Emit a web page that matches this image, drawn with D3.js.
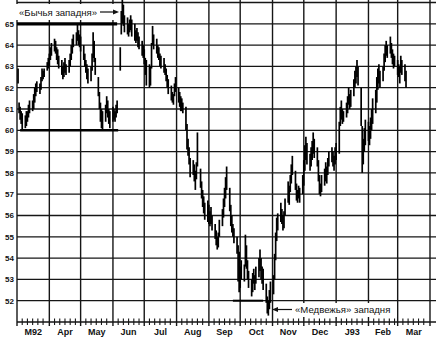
<!DOCTYPE html>
<meta charset="utf-8">
<script src="https://d3js.org/d3.v7.min.js"></script>
<style>
body { margin: 0; padding: 0; background: #fff; }
.ylab { font-family: 'Liberation Sans', Arial, sans-serif; font-size: 8px; font-weight: bold; }
.mlab { font-family: 'Liberation Sans', Arial, sans-serif; font-size: 9px; font-weight: bold; }
.note { font-family: 'Liberation Sans', Arial, sans-serif; font-size: 9.6px; }
</style>
<body>
<div id="chart"></div>
<script>

// month labels along the bottom, one per month from March 1992
var monthLabels = ["M92", "Apr", "May", "Jun", "Jul", "Aug", "Sep", "Oct", "Nov", "Dec", "J93", "Feb", "Mar"];
var priceTicks = [52, 53, 54, 55, 56, 57, 58, 59, 60, 61, 62, 63, 64, 65];

// trading days (weekdays) covered by the bars
var firstDay = new Date(1992, 2, 2), lastDay = new Date(1993, 2, 9);

// daily highs, one row per month
var high = [
  62.9, 61.3, 61.1, 60.9, 60.8, 60.7, 60.9, 60.9, 61.2, 61.4, 61.4, 61.7, 62.0, 62.2, 62.3, 62.2, 62.5, 62.9, 62.8, 62.9, 63.2, 63.4, // Mar
  63.6, 63.9, 64.1, 64.3, 64.2, 63.9, 63.8, 63.5, 63.3, 63.0, 63.2, 63.4, 63.1, 63.3, 63.6, 64.0, 64.3, 64.5, 64.6, 65.0, 64.7, 64.5, // Apr
  64.4, 64.0, 63.6, 63.3, 63.1, 62.9, 63.0, 63.6, 64.6, 64.2, 63.4, 62.5, 61.8, 61.3, 61.0, 60.9, 61.2, 61.6, 61.4, 61.0, 60.9, // May
  61.1, 61.0, 60.9, 61.2, 61.4, 63.9, 65.6, 66.3, 65.9, 65.4, 65.3, 65.0, 65.2, 65.4, 65.2, 65.0, 64.7, 64.8, 64.6, 64.4, 64.2, 64.0, // Jun
  63.8, 63.4, 63.3, 63.1, 63.0, 64.1, 64.9, 64.5, 64.3, 64.0, 63.9, 63.6, 63.5, 63.4, 63.1, 62.9, 62.6, 62.4, 62.1, 61.8, 61.7, 62.2, 62.5, // Jul
  62.0, 61.8, 61.6, 61.5, 61.3, 61.1, 60.3, 59.6, 59.2, 58.7, 58.6, 58.4, 58.1, 58.5, 59.9, 58.2, 57.6, 57.2, 56.9, 56.6, 56.7, // Aug
  56.5, 56.2, 56.4, 56.0, 55.6, 55.3, 55.0, 55.2, 55.8, 56.3, 56.8, 57.3, 57.8, 58.3, 57.3, 56.5, 56.0, 55.6, 55.4, 55.0, 54.6, 54.3, // Sep
  53.6, 53.9, 53.7, 55.1, 54.6, 53.9, 53.4, 53.0, 53.3, 53.5, 53.2, 53.6, 54.0, 54.4, 54.0, 53.6, 53.5, 52.8, 52.2, 52.0, 52.5, 52.9, // Oct
  53.2, 54.2, 55.2, 55.9, 56.1, 56.6, 56.3, 56.0, 56.2, 56.8, 57.6, 57.4, 57.9, 58.4, 58.8, 58.1, 57.5, 57.2, 57.4, 57.3, 57.9, // Nov
  58.6, 59.3, 59.7, 59.4, 58.9, 59.2, 59.5, 59.9, 59.6, 59.2, 58.6, 57.9, 57.5, 57.9, 58.2, 58.5, 58.3, 58.7, 59.0, 59.2, 59.0, 58.8, 59.2, // Dec
  59.4, 60.4, 61.1, 61.4, 61.0, 60.9, 61.3, 61.6, 62.0, 61.7, 61.9, 62.4, 62.8, 63.0, 63.3, 63.0, 62.0, 60.2, 59.6, 60.1, 60.5, // Jan
  60.4, 60.2, 60.6, 61.0, 61.5, 61.9, 62.5, 62.9, 63.1, 62.8, 63.0, 63.6, 64.0, 64.2, 64.0, 64.4, 64.1, 63.8, 63.6, 63.5, // Feb
  63.3, 63.1, 63.0, 63.5, 63.3, 63.1, 62.8 // Mar
];

// daily lows
var low = [
  62.2, 60.8, 60.5, 60.3, 60.0, 60.1, 60.2, 60.4, 60.6, 60.8, 60.9, 61.0, 61.3, 61.6, 61.8, 61.7, 61.9, 62.3, 62.4, 62.5, 62.8, 62.9,
  63.0, 63.3, 63.5, 63.7, 63.6, 63.3, 63.1, 62.9, 62.6, 62.4, 62.5, 62.7, 62.6, 62.7, 63.0, 63.3, 63.6, 63.9, 64.0, 64.2, 64.0, 63.9,
  63.7, 63.3, 63.0, 62.7, 62.4, 62.2, 62.3, 62.8, 63.4, 63.2, 62.6, 61.6, 61.0, 60.4, 60.1, 60.0, 60.4, 60.8, 60.6, 60.3, 60.1,
  60.4, 60.5, 60.4, 60.6, 60.8, 62.8, 64.5, 65.0, 64.9, 64.6, 64.5, 64.4, 64.6, 64.7, 64.4, 64.2, 64.1, 64.2, 63.9, 63.8, 63.5, 63.4,
  63.1, 62.6, 62.1, 62.0, 62.1, 62.9, 64.0, 63.8, 63.6, 63.4, 63.3, 63.0, 62.9, 62.7, 62.6, 62.3, 62.0, 61.7, 61.4, 61.3, 61.2, 61.6, 61.8,
  61.3, 61.1, 60.9, 60.9, 60.8, 60.0, 59.1, 58.8, 58.4, 57.8, 57.9, 57.6, 57.2, 57.7, 58.3, 57.3, 56.8, 56.4, 56.1, 55.8, 55.7,
  55.6, 55.5, 55.6, 55.3, 54.9, 54.6, 54.4, 54.5, 55.0, 55.5, 55.9, 56.4, 56.8, 57.2, 56.2, 55.5, 55.2, 55.0, 54.7, 54.2, 52.9, 52.4,
  52.6, 53.0, 52.9, 53.6, 53.5, 53.0, 52.6, 52.2, 52.4, 52.8, 52.5, 52.8, 53.1, 53.4, 53.0, 52.8, 52.5, 51.9, 51.4, 51.3, 51.6, 51.9,
  52.3, 53.0, 53.9, 54.8, 55.3, 55.7, 55.6, 55.3, 55.4, 56.0, 56.6, 56.5, 57.1, 57.5, 57.9, 57.2, 56.7, 56.6, 56.8, 56.6, 57.0,
  57.4, 58.1, 58.6, 58.4, 58.1, 58.3, 58.6, 58.9, 58.7, 58.3, 57.6, 57.0, 56.9, 57.1, 57.4, 57.6, 57.5, 57.9, 58.3, 58.5, 58.3, 58.1, 58.4,
  58.6, 58.9, 60.2, 60.5, 60.3, 60.4, 60.6, 60.8, 61.2, 61.0, 61.1, 61.6, 62.0, 62.2, 62.5, 62.1, 60.2, 58.0, 58.4, 59.0, 59.3,
  59.5, 59.3, 59.6, 60.0, 60.3, 60.8, 61.3, 61.9, 62.2, 62.0, 62.3, 62.8, 63.2, 63.5, 63.4, 63.6, 63.4, 63.1, 62.9, 63.0,
  62.6, 62.5, 62.2, 62.7, 62.6, 62.3, 62.0
];

// annotation levels (price, start date, end date)
var bullLevel = [65, new Date(1992, 2, 1), new Date(1992, 5, 5)];
var supportLevel = [60, new Date(1992, 2, 4), new Date(1992, 5, 6)];
var bearLevel = [52, new Date(1992, 8, 24), new Date(1992, 9, 23)];
var bullText = "«Бычья западня»";
var bearText = "«Медвежья» западня";

var width = 436, height = 339;
var svg = d3.select("#chart").append("svg")
  .attr("width", width)
  .attr("height", height);

var x = d3.scaleTime()
  .domain([new Date(1992, 2, 1), new Date(1993, 3, 1)])
  .range([17, 430]);

var y = d3.scaleLinear()
  .domain([51, 66])
  .range([322, 2.5]);

var days = d3.timeDay.range(firstDay, d3.timeDay.offset(lastDay, 1))
  .filter(function(d) { return d.getDay() != 0 && d.getDay() != 6; });
var bars = days.map(function(d, i) { return {date: d, hi: high[i], lo: low[i]}; });

var ink = "#161616";

// horizontal grid
svg.append("g").selectAll("line")
  .data(priceTicks.concat([66]))
  .join("line")
    .attr("x1", 17).attr("x2", width)
    .attr("y1", function(d) { return y(d); })
    .attr("y2", function(d) { return y(d); })
    .attr("stroke", ink).attr("stroke-width", 1.3);

// month lines
var months = d3.timeMonth.range(new Date(1992, 2, 1), new Date(1993, 3, 2));
svg.append("g").selectAll("line")
  .data(months)
  .join("line")
    .attr("x1", function(d) { return x(d); })
    .attr("x2", function(d) { return x(d); })
    .attr("y1", 0).attr("y2", 326)
    .attr("stroke", ink).attr("stroke-width", 1.4);

// x axis line + small ticks
svg.append("line")
  .attr("x1", 17).attr("x2", width)
  .attr("y1", y(51)).attr("y2", y(51))
  .attr("stroke", ink).attr("stroke-width", 1.4);

var ticks = [];
months.slice(0, -1).forEach(function(m) {
  [6, 11, 16, 21, 26].forEach(function(dd) { ticks.push(new Date(m.getFullYear(), m.getMonth(), dd)); });
});
svg.append("g").selectAll("line")
  .data(ticks)
  .join("line")
    .attr("x1", function(d) { return x(d); })
    .attr("x2", function(d) { return x(d); })
    .attr("y1", y(51) - 3.5).attr("y2", y(51) + 3)
    .attr("stroke", ink).attr("stroke-width", 1.1);

// y labels
svg.append("g").selectAll("text")
  .data(priceTicks)
  .join("text")
    .attr("class", "ylab")
    .attr("x", 14)
    .attr("y", function(d) { return y(d); })
    .attr("dy", "0.35em")
    .attr("text-anchor", "end")
    .attr("fill", "#111")
    .text(function(d) { return d; });

// month labels
svg.append("g").selectAll("text")
  .data(monthLabels)
  .join("text")
    .attr("class", "mlab")
    .attr("x", function(d, i) { return (x(months[i]) + x(months[i + 1])) / 2; })
    .attr("y", 335)
    .attr("text-anchor", "middle")
    .attr("fill", "#111")
    .text(function(d) { return d; });

// white boxes behind the notes
svg.append("rect").attr("x", 16).attr("y", 4).attr("width", 103).attr("height", 16).attr("fill", "#fff");
svg.append("rect").attr("x", 293).attr("y", 303).attr("width", 104).attr("height", 14).attr("fill", "#fff");

// price bars
svg.append("g").selectAll("line")
  .data(bars)
  .join("line")
    .attr("x1", function(d) { return x(d.date); })
    .attr("x2", function(d) { return x(d.date); })
    .attr("y1", function(d) { return y(d.hi); })
    .attr("y2", function(d) { return y(d.lo); })
    .attr("stroke", "#000")
    .attr("stroke-width", 1.7);

// level lines
function levelLine(lv, w) {
  svg.append("line")
    .attr("x1", x(lv[1])).attr("x2", x(lv[2]))
    .attr("y1", y(lv[0])).attr("y2", y(lv[0]))
    .attr("stroke", "#000").attr("stroke-width", w);
}
levelLine(bullLevel, 3.2);
levelLine(supportLevel, 2.4);
levelLine(bearLevel, 2);

// notes with arrows
svg.append("text").attr("class", "note")
  .attr("x", 19).attr("y", 15.5)
  .attr("fill", "#111")
  .text(bullText);
svg.append("line").attr("x1", 100).attr("x2", 114).attr("y1", 12).attr("y2", 12)
  .attr("stroke", "#111").attr("stroke-width", 1.2);
svg.append("path").attr("d", "M119,12 L113,9.5 L113,14.5 Z").attr("fill", "#111");

svg.append("line").attr("x1", 277).attr("x2", 292).attr("y1", 309.5).attr("y2", 309.5)
  .attr("stroke", "#111").attr("stroke-width", 1.2);
svg.append("path").attr("d", "M272,309.5 L278,307 L278,312 Z").attr("fill", "#111");
svg.append("text").attr("class", "note")
  .attr("x", 295).attr("y", 313)
  .attr("fill", "#111")
  .text(bearText);

</script>
</body>
